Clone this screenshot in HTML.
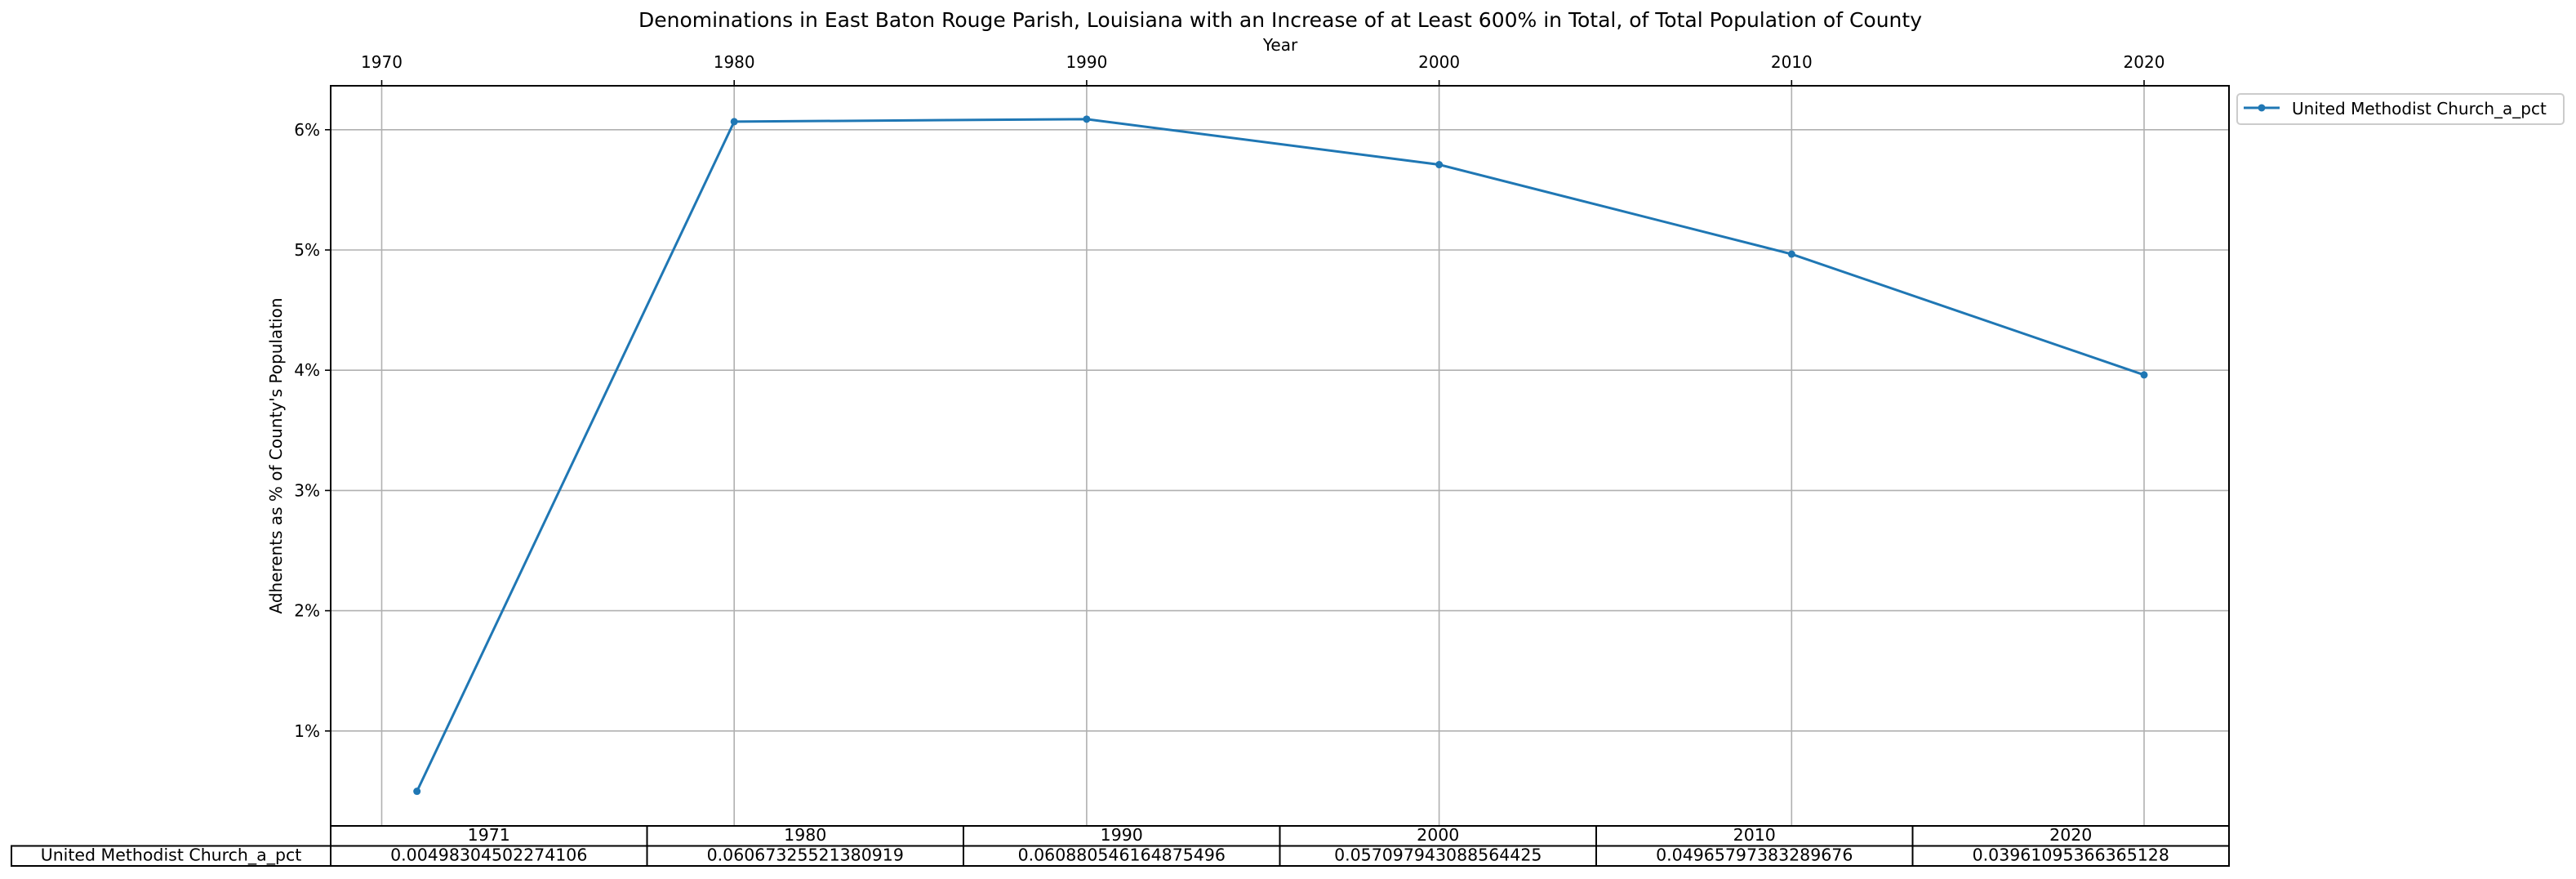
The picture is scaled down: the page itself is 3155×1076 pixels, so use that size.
<!DOCTYPE html>
<html><head><meta charset="utf-8"><style>
html,body{margin:0;padding:0;background:#fff;}
svg{display:block;font-family:"DejaVu Sans","Liberation Sans",sans-serif;}
</style></head><body>
<svg id="chart" width="3155" height="1076" viewBox="0 0 3155 1076" xmlns="http://www.w3.org/2000/svg">
<rect width="3155" height="1076" fill="#fff"/>
<text x="1568" y="33" font-size="25" text-anchor="middle">Denominations in East Baton Rouge Parish, Louisiana with an Increase of at Least 600% in Total, of Total Population of County</text>
<text x="1568" y="62" font-size="20" text-anchor="middle">Year</text>
<text transform="translate(345,558) rotate(-90)" font-size="20" text-anchor="middle">Adherents as % of County's Population</text>
<g id="grid"></g>
<g id="axes"></g>
<g id="series"></g>
<g id="table"></g>
<g>
<rect x="2740" y="115" width="400" height="37" rx="4" fill="#fff" stroke="#ccc" stroke-width="2"/>
<line x1="2748" y1="132" x2="2792" y2="132" stroke="#1f77b4" stroke-width="3"/>
<circle cx="2770" cy="132" r="4.5" fill="#1f77b4"/>
<text x="2807" y="140" font-size="20">United Methodist Church_a_pct</text>
</g>
<script>
const years = [1971, 1980, 1990, 2000, 2010, 2020];
const values = [0.00498304502274106, 0.06067325521380919, 0.060880546164875496, 0.057097943088564425, 0.04965797383289676, 0.03961095366365128];
const valueLabels = ["0.00498304502274106","0.06067325521380919","0.060880546164875496","0.057097943088564425","0.04965797383289676","0.03961095366365128"];
const xTicks = [1970, 1980, 1990, 2000, 2010, 2020];
const yTicks = [0.01, 0.02, 0.03, 0.04, 0.05, 0.06];
const seriesName = "United Methodist Church_a_pct";

const NS = "http://www.w3.org/2000/svg";
const L = 405, R = 2730, T = 105, B = 1011;
const xs = y => 467.5 + (y - 1970) * 43.17;
const ys = v => 1042 - v * 100 * 147.2;
function mk(tag, attrs, parent, text){const e=document.createElementNS(NS,tag);for(const k in attrs)e.setAttribute(k,attrs[k]);if(text!==undefined)e.textContent=text;parent.appendChild(e);return e;}
const grid=document.getElementById('grid'), axes=document.getElementById('axes'), series=document.getElementById('series'), table=document.getElementById('table');
xTicks.forEach(t=>{
  const x=xs(t);
  const g=mk('line',{x1:x,y1:T,x2:x,y2:B,stroke:'#b0b0b0','stroke-width':1.6},grid);
  
  
  mk('line',{x1:x,y1:T,x2:x,y2:T-7,stroke:'#000','stroke-width':1.6},axes);
  const tl=mk('text',{x:x,y:T-22,'font-size':20,'text-anchor':'middle'},axes,String(t));
  
  
});
yTicks.forEach(t=>{
  const y=ys(t);
  const g=mk('line',{x1:L,y1:y,x2:R,y2:y,stroke:'#b0b0b0','stroke-width':1.6},grid);
  
  
  mk('line',{x1:L,y1:y,x2:L-7,y2:y,stroke:'#000','stroke-width':1.6},axes);
  const tl=mk('text',{x:L-13,y:y+7,'font-size':20,'text-anchor':'end'},axes,Math.round(t*100)+'%');
  
  
});
const frame=mk('rect',{x:L,y:T,width:R-L,height:B-T,fill:'none',stroke:'#000','stroke-width':2},axes);


const pts=years.map((y,i)=>xs(y)+','+ys(values[i])).join(' ');
const line=mk('polyline',{points:pts,fill:'none',stroke:'#1f77b4','stroke-width':3},series);


years.forEach((y,i)=>{
  const c=mk('circle',{cx:xs(y),cy:ys(values[i]),r:4.5,fill:'#1f77b4'},series);
  
  
});
const cw=(R-L)/years.length, r1=1011, r2=1035.5, r3=1060;
mk('rect',{x:L,y:r1,width:R-L,height:r2-r1,fill:'none',stroke:'#000','stroke-width':2},table);
mk('rect',{x:14,y:r2,width:R-14,height:r3-r2,fill:'none',stroke:'#000','stroke-width':2},table);
mk('line',{x1:L,y1:r2,x2:L,y2:r3,stroke:'#000','stroke-width':2},table);
const rl=mk('text',{x:(14+L)/2,y:r2+18,'font-size':20.5,'text-anchor':'middle'},table,seriesName);


years.forEach((y,i)=>{
  const x=L+i*cw;
  if(i>0) mk('line',{x1:x,y1:r1,x2:x,y2:r3,stroke:'#000','stroke-width':2},table);
  const h=mk('text',{x:x+cw/2,y:r1+18,'font-size':20.5,'text-anchor':'middle'},table,String(y));
  
  
  const v=mk('text',{x:x+cw/2,y:r2+18,'font-size':20.5,'text-anchor':'middle'},table,valueLabels[i]);
  
  
});
</script>
</svg>
</body></html>
